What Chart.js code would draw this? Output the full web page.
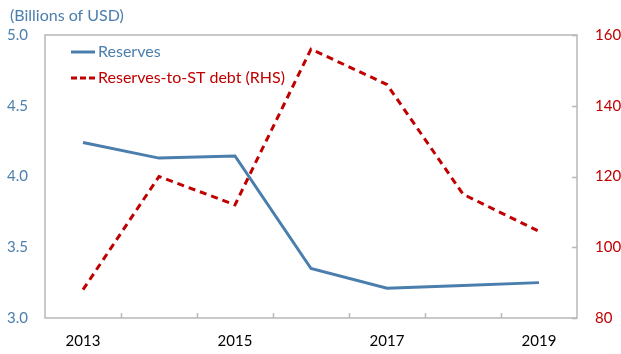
<!DOCTYPE html>
<html lang="en">
<head>
<meta charset="UTF-8">
<title>Reserves</title>
<script src="https://cdn.jsdelivr.net/npm/chart.js@4"></script>
<style>
  body { margin: 0; background: #fff; }
  #wrap { width: 621px; height: 354px; }
</style>
</head>
<body>
<div id="wrap"><canvas id="chart" width="621" height="354"></canvas></div>
<script>

// data
var years = ['2013', '2014', '2015', '2016', '2017', '2018', '2019'];
var reserves = [4.24, 4.13, 4.145, 3.35, 3.21, 3.23, 3.25];       // billions of USD, left axis
var reservesToDebt = [88, 120, 112, 156, 146, 115, 104.5];         // percent, right axis
var unitLabel = '(Billions of USD)';

var blue = 'rgb(74, 126, 173)';
var red = 'rgb(192, 0, 0)';
var frameColor = '#b8b8b8';
var fontFamily = 'Lato, "Open Sans", sans-serif';

// frame, inward tick marks, unit label and the legend inside the plot
var decorations = {
  id: 'decorations',
  afterDraw: function(chart) {
    var ctx = chart.ctx;
    var area = chart.chartArea;
    var y2 = chart.scales.y2;

    ctx.save();
    ctx.strokeStyle = frameColor;
    ctx.lineWidth = 1.5;
    ctx.strokeRect(area.left, area.top, area.right - area.left, area.bottom - area.top);

    // x tick marks between categories
    var n = years.length;
    var step = (area.right - area.left) / n;
    ctx.beginPath();
    for (var i = 1; i < n; i++) {
      var px = Math.round(area.left + i * step) + 0.5;
      ctx.moveTo(px, area.bottom);
      ctx.lineTo(px, area.bottom - 5);
    }
    // right axis tick marks
    y2.ticks.forEach(function(t) {
      var py = Math.round(y2.getPixelForValue(t.value)) + 0.5;
      ctx.moveTo(area.right, py);
      ctx.lineTo(area.right - 5, py);
    });
    ctx.stroke();

    // unit label
    ctx.font = '16px ' + fontFamily;
    ctx.fillStyle = blue;
    ctx.textBaseline = 'middle';
    ctx.textAlign = 'left';
    ctx.fillText(unitLabel, 10, 16);

    // legend
    chart.data.datasets.forEach(function(ds, idx) {
      var ly = area.top + 17 + idx * 26;
      var lx = area.left + 26;
      ctx.beginPath();
      ctx.strokeStyle = ds.borderColor;
      ctx.lineWidth = 3;
      ctx.setLineDash(ds.borderDash ? [6, 3] : []);
      ctx.moveTo(lx, ly);
      ctx.lineTo(lx + 24, ly);
      ctx.stroke();
      ctx.setLineDash([]);
      ctx.fillStyle = ds.borderColor;
      ctx.fillText(ds.label, lx + 27, ly);
    });
    ctx.restore();
  }
};

var config = {
  type: 'line',
  data: {
    labels: years,
    datasets: [
      {
        label: 'Reserves',
        data: reserves,
        yAxisID: 'y',
        borderColor: blue,
        backgroundColor: blue,
        borderWidth: 3,
        pointRadius: 0,
        tension: 0,
        fill: false,
      },
      {
        label: 'Reserves-to-ST debt (RHS)',
        data: reservesToDebt,
        yAxisID: 'y2',
        borderColor: red,
        backgroundColor: red,
        borderWidth: 3,
        borderDash: [7, 5],
        pointRadius: 0,
        tension: 0,
        fill: false,
      },
    ],
  },
  options: {
    responsive: false,
    animation: false,
    layout: { padding: { top: 35, left: 0, right: 0, bottom: 0 } },
    plugins: {
      legend: { display: false },
      tooltip: { enabled: false },
    },
    scales: {
      x: {
        offset: true,
        grid: { display: false, drawTicks: false },
        border: { display: false },
        ticks: {
          autoSkip: false,
          maxRotation: 0,
          color: '#000',
          padding: 14,
          font: { family: fontFamily, size: 15 },
          callback: function(value, index) {
            return index % 2 === 0 ? years[index] : '';
          },
        },
        afterFit: function(scale) { scale.height = 36; },
      },
      y: {
        position: 'left',
        min: 3,
        max: 5,
        grid: { display: false, drawTicks: false },
        border: { display: false },
        ticks: {
          stepSize: 0.5,
          color: blue,
          padding: 17,
          font: { family: fontFamily, size: 15 },
          callback: function(v) { return v.toFixed(1); },
        },
        afterFit: function(scale) { scale.width = 45; },
      },
      y2: {
        position: 'right',
        min: 80,
        max: 160,
        grid: { display: false, drawTicks: false },
        border: { display: false },
        ticks: {
          stepSize: 20,
          color: red,
          padding: 18,
          font: { family: fontFamily, size: 15 },
        },
        afterFit: function(scale) { scale.width = 44; },
      },
    },
  },
  plugins: [decorations],
};

window.onload = function() {
  var ctx = document.getElementById('chart').getContext('2d');
  window.myChart = new Chart(ctx, config);
};
</script>
</body>
</html>
